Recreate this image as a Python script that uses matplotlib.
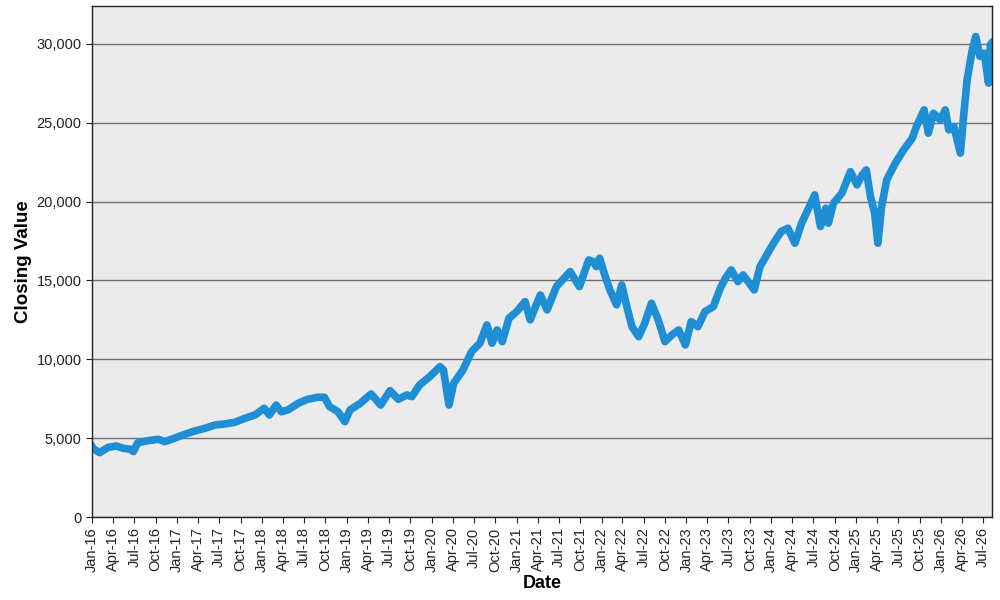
import matplotlib
matplotlib.use('Agg')
import matplotlib.pyplot as plt
import matplotlib.dates as mdates
import matplotlib.ticker as mticker
import numpy as np
import pandas as pd

plt.rcParams['font.family'] = ['Liberation Sans', 'DejaVu Sans']

# closing values
dates = [
    '2016-01-01', '2016-01-04', '2016-02-03', '2016-03-11', '2016-04-15', '2016-05-15',
    '2016-06-17', '2016-06-27', '2016-07-16', '2016-08-30', '2016-10-12', '2016-11-10',
    '2016-12-20', '2017-02-03', '2017-03-18', '2017-05-01', '2017-06-14', '2017-07-24',
    '2017-09-06', '2017-10-20', '2017-12-02', '2018-01-11', '2018-02-02', '2018-03-03',
    '2018-03-25', '2018-04-23', '2018-06-06', '2018-07-16', '2018-08-29', '2018-09-27',
    '2018-10-19', '2018-11-24', '2018-12-24', '2019-01-15', '2019-02-28', '2019-04-16',
    '2019-05-27', '2019-07-06', '2019-08-11', '2019-09-16', '2019-10-08', '2019-11-10',
    '2019-12-24', '2020-02-06', '2020-02-21', '2020-03-16', '2020-04-05', '2020-05-15',
    '2020-06-21', '2020-07-27', '2020-08-26', '2020-09-17', '2020-10-09', '2020-10-31',
    '2020-11-29', '2021-01-01', '2021-02-06', '2021-02-28', '2021-04-13', '2021-05-12',
    '2021-06-21', '2021-08-19', '2021-09-28', '2021-11-07', '2021-11-25', '2021-12-10',
    '2021-12-24', '2022-01-15', '2022-02-06', '2022-03-07', '2022-03-29', '2022-04-20',
    '2022-05-12', '2022-06-10', '2022-07-06', '2022-08-04', '2022-09-02', '2022-10-01',
    '2022-10-31', '2022-11-29', '2022-12-28', '2023-01-22', '2023-02-20', '2023-03-22',
    '2023-04-27', '2023-05-27', '2023-06-18', '2023-07-13', '2023-08-11', '2023-09-02',
    '2023-09-24', '2023-10-20', '2023-11-14', '2023-12-13', '2024-01-11', '2024-02-13',
    '2024-03-13', '2024-04-12', '2024-05-11', '2024-06-10', '2024-07-06', '2024-07-31',
    '2024-08-23', '2024-09-03', '2024-09-25', '2024-10-31', '2024-12-07', '2025-01-04',
    '2025-01-26', '2025-02-13', '2025-03-03', '2025-03-21', '2025-04-04', '2025-04-20',
    '2025-05-12', '2025-06-18', '2025-07-24', '2025-08-30', '2025-09-17', '2025-10-20',
    '2025-11-07', '2025-11-29', '2025-12-28', '2026-01-19', '2026-02-03', '2026-02-25',
    '2026-03-25', '2026-04-09', '2026-04-23', '2026-05-15', '2026-05-30', '2026-06-17',
    '2026-07-06', '2026-07-24', '2026-08-01', '2026-08-07',
]
closing = [
    4450, 4357, 4080, 4420, 4500, 4357,
    4290, 4150, 4710, 4840, 4930, 4780,
    4990, 5245, 5455, 5625, 5835, 5900,
    6005, 6260, 6470, 6895, 6470, 7100,
    6680, 6790, 7210, 7465, 7590, 7590,
    7000, 6680, 6045, 6790, 7210, 7800,
    7100, 8010, 7465, 7740, 7630, 8370,
    8900, 9535, 9325, 7100, 8480, 9325,
    10485, 11020, 12180, 11020, 11860, 11120,
    12605, 13020, 13655, 12500, 14080, 13130,
    14610, 15560, 14610, 16300, 16195, 15880,
    16410, 15350, 14400, 13450, 14715, 13340,
    12070, 11435, 12285, 13555, 12500, 11120,
    11545, 11860, 10910, 12390, 12070, 13020,
    13340, 14505, 15140, 15670, 14925, 15350,
    14925, 14400, 15880, 16620, 17360, 18100,
    18310, 17360, 18630, 19580, 20425, 18415,
    19580, 18630, 19900, 20530, 21900, 21060,
    21690, 22010, 20320, 19265, 17360, 19680,
    21375, 22435, 23280, 24020, 24760, 25815,
    24340, 25600, 25180, 25815, 24550, 24760,
    23070, 25600, 27720, 29620, 30465, 29200,
    29410, 27510, 29940, 30050,
]

df = pd.DataFrame({'date': pd.to_datetime(dates), 'close': closing})

fig = plt.figure(figsize=(10, 6), dpi=100)
ax = fig.add_axes([0.092, 0.1383, 0.900, 0.8517])
ax.set_facecolor('#ebebeb')

ax.plot(df['date'], df['close'], color='#1e8fd5', lw=5.5)

ax.set_xlim(pd.Timestamp('2016-01-01'), pd.Timestamp('2026-08-08'))
ax.set_ylim(0, 32400)
ax.yaxis.set_major_locator(mticker.MultipleLocator(5000))
ax.yaxis.set_major_formatter(mticker.StrMethodFormatter('{x:,.0f}'))
ax.grid(axis='y', color='#6e6e6e', lw=1)
ax.set_axisbelow(True)

ax.xaxis.set_major_locator(mdates.MonthLocator(bymonth=[1, 4, 7, 10]))
ax.xaxis.set_major_formatter(mdates.DateFormatter('%b-%y'))
plt.setp(ax.get_xticklabels(), rotation=90)
ax.tick_params(labelsize=10.5, colors='#222222', length=4)

for s in ax.spines.values():
    s.set_color('#222222')
    s.set_linewidth(1)

ax.set_xlabel('Date', fontsize=13, fontweight='bold', labelpad=2)
ax.set_ylabel('Closing Value', fontsize=13.5, fontweight='bold', labelpad=3)

plt.savefig('out.png', dpi=100)
